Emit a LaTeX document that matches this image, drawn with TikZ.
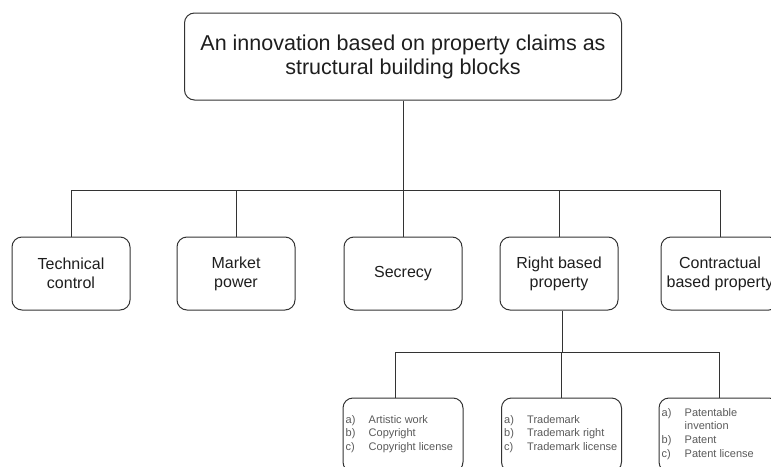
\documentclass[tikz,border=0pt]{standalone}
\usepackage{fontspec}
\setmainfont{Liberation Sans}
\usepackage{array}
\definecolor{edge}{HTML}{333333}
\definecolor{ink}{HTML}{1E1E1E}
\definecolor{listink}{HTML}{5A5A5A}
\begin{document}
\begin{tikzpicture}[x=1pt,y=-1pt,
  box/.style={draw=edge, line width=1pt, rounded corners=10pt, inner sep=0pt,
    align=center, text=ink},
  rootbox/.style={box, minimum width=437pt, minimum height=87pt,
    font=\fontsize{21.5pt}{24pt}\selectfont},
  claimbox/.style={box, minimum width=118pt, minimum height=73pt,
    font=\fontsize{16pt}{19pt}\selectfont},
  leafbox/.style={box, minimum width=120pt, minimum height=74pt},
  listtext/.style={inner sep=0pt, anchor=west, text=listink,
    font=\fontsize{11pt}{13.7pt}\selectfont},
  link/.style={draw=edge, line width=1pt}
]
\useasboundingbox (0,0) rectangle (771,466);
\clip (0,0) rectangle (771,466);

% root
\node[rootbox] (root) at (403,56.5) {An innovation based on property claims as\\structural building blocks};

% kinds of property claims
\node[claimbox] (tc)  at (71,273.5)  {Technical\\control};
\node[claimbox] (mp)  at (236,273.5) {Market\\power};
\node[claimbox] (sec) at (403,273.5) {Secrecy};
\node[claimbox] (rbp) at (559,273.5) {Right based\\property};
\node[claimbox] (cbp) at (720,273.5) {Contractual\\based property};

% right based property leaves
\node[leafbox] (b1) at (403,435)   {};
\node[leafbox] (b2) at (561.5,435) {};
\node[leafbox] (b3) at (719,435)   {};

\newcommand{\listrows}[1]{%
  \begin{tabular}{@{}p{23pt}@{}p{91pt}@{}}#1\end{tabular}}
\node[listtext] (b1t) at ([xshift=3pt,yshift=1pt]b1.west)
  {\listrows{a)&Artistic work\\ b)&Copyright\\ c)&Copyright license}};
\node[listtext] (b2t) at ([xshift=3pt,yshift=1pt]b2.west)
  {\listrows{a)&Trademark\\ b)&Trademark right\\ c)&Trademark license}};
\node[listtext] (b3t) at ([xshift=3pt,yshift=1pt]b3.west)
  {\listrows{a)&Patentable\\ &invention\\ b)&Patent\\ c)&Patent license}};

% connectors
\coordinate (j1) at (403,190);
\draw[link] (root.south) -- (j1);
\draw[link] (j1) -| (tc.north);
\draw[link] (j1) -| (mp.north);
\draw[link] (j1) -- (sec.north);
\draw[link] (j1) -| (rbp.north);
\draw[link] (j1) -| (cbp.north);

\coordinate (j2) at (562,352);
\draw[link] (j2 |- rbp.south) -- (j2);
\draw[link] (j2) -| ([xshift=-8pt]b1.north);
\draw[link] (j2) -| (b2.north);
\draw[link] (j2) -| (b3.north);
\end{tikzpicture}
\end{document}
